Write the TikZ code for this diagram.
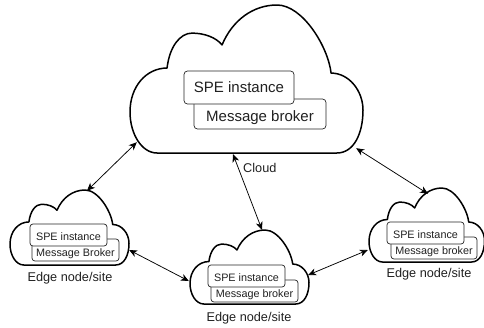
\documentclass[tikz,border=0pt]{standalone}
\usepackage{fontspec}
\setmainfont{Liberation Sans}
\usetikzlibrary{arrows.meta}
\definecolor{textgray}{rgb}{0.13, 0.13, 0.13}
\tikzset{
    cloudline/.style={draw=black, fill=white, line width=1.5pt, line join=round},
    cloudarea/.style={inner sep=0pt},
    bigbox/.style={draw=black!85, fill=white, rounded corners=3.5pt, line width=0.7pt, inner sep=0pt, text=textgray, text depth=0pt, font=\fontsize{15}{18}\selectfont},
    smallbox/.style={draw=black!85, fill=white, rounded corners=3pt, line width=0.7pt, inner sep=0pt, text=textgray, text height=10pt, text depth=0pt, font=\fontsize{10.8}{13}\selectfont},
    smallbroker/.style={smallbox, text height=12pt},
    sitelabel/.style={inner sep=0pt, text=textgray, font=\fontsize{12.7}{15}\selectfont},
    link/.style={<->, line width=0.75pt},
    cloudshape/.pic={
        \path[cloudline] (.116,0) .. controls (.05,0) and (0,.13) .. (0,.277)
            .. controls (0,.45) and (.07,.574) .. (.159,.574)
            .. controls (.17,.72) and (.215,.81) .. (.266,.81)
            .. controls (.32,.81) and (.37,.78) .. (.395,.73)
            .. controls (.44,.9) and (.53,1) .. (.631,1)
            .. controls (.74,1) and (.85,.72) .. (.863,.54)
            .. controls (.94,.54) and (1,.42) .. (1,.29)
            .. controls (1,.13) and (.96,0) .. (.888,0) -- cycle;
    }
}

\begin{document}
\begin{tikzpicture}[x=1pt, y=-1pt, >={Stealth[length=8pt, width=7pt, inset=2.5pt]}]
    \useasboundingbox (0,0) rectangle (484,327);

    % Clouds
    \pic[xscale=233, yscale=-148] at (130,153) {cloudshape};
    \pic[xscale=119, yscale=-75] at (10,265) {cloudshape};
    \pic[xscale=119, yscale=-74] at (190,304) {cloudshape};
    \pic[xscale=115.5, yscale=-74] at (369,262) {cloudshape};
    \node (cloudtop)[cloudarea, minimum width=233pt, minimum height=148pt] at (246.5,79) {};
    \node (cloudleft)[cloudarea, minimum width=119pt, minimum height=75pt] at (69.5,227.5) {};
    \node (cloudmid)[cloudarea, minimum width=119pt, minimum height=74pt] at (249.5,267) {};
    \node (cloudright)[cloudarea, minimum width=115pt, minimum height=74pt] at (426.5,225) {};

    % Cloud boxes
    \node (brokertop)[bigbox, text height=14pt, minimum width=132pt, minimum height=30pt] at (260,114) {Message broker};
    \node (spetop)[bigbox, text height=10.5pt, minimum width=110pt, minimum height=33pt] at (239,87.5) {SPE instance};

    % Edge boxes
    \node (brokerleft)[smallbroker, minimum width=87pt, minimum height=22pt] at (75.5,250) {Message Broker};
    \node (speleft)[smallbox, minimum width=77pt, minimum height=22pt] at (68.5,235) {SPE instance};
    \node (brokermid)[smallbroker, minimum width=87pt, minimum height=22pt] at (254.5,291) {Message broker};
    \node (spemid)[smallbox, minimum width=77pt, minimum height=22pt] at (246.5,276) {SPE instance};
    \node (brokerright)[smallbroker, minimum width=86pt, minimum height=22pt] at (434,248) {Message broker};
    \node (speright)[smallbox, minimum width=77pt, minimum height=22pt] at (425.5,233) {SPE instance};

    % Labels
    \node (labelcloud)[sitelabel, anchor=west] at (243,168) {Cloud};
    \node (labelleft)[sitelabel] at (70,278) {Edge node/site};
    \node (labelmid)[sitelabel] at (249,318) {Edge node/site};
    \node (labelright)[sitelabel] at (429,274) {Edge node/site};

    % Links
    \draw[link] ([shift={(7,-11)}]cloudtop.south west) -- ([shift={(17.5,1)}]cloudleft.north);
    \draw[link] ([shift={(-13.5,1)}]cloudtop.south) -- ([shift={(12.5,0)}]cloudmid.north);
    \draw[link] ([shift={(-7,-5)}]cloudtop.south east) -- ([shift={(1.5,6)}]cloudright.north);
    \draw[link] ([shift={(0,22.5)}]cloudleft.east) -- ([shift={(-1,14)}]cloudmid.west);
    \draw[link] ([shift={(-1,8)}]cloudmid.east) -- ([shift={(-1,25)}]cloudright.west);
\end{tikzpicture}
\end{document}
